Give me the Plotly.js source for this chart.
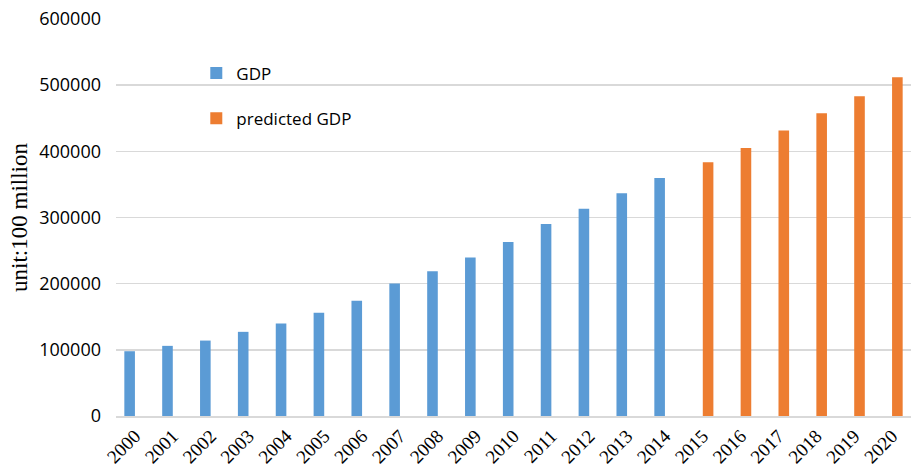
<!DOCTYPE html>
<html>
<head>
<meta charset="utf-8">
<script src="https://cdn.plot.ly/plotly-3.0.1.min.js"></script>
<style>html,body{margin:0;padding:0;background:#fff;}#chart{width:911px;height:470px;}</style>
</head>
<body>
<div id="chart"></div>
<script>
var yearsActual = ["2000","2001","2002","2003","2004","2005","2006","2007","2008","2009","2010","2011","2012","2013","2014"];
var gdpActual = [97900,106000,114000,127200,139700,155900,174000,200200,218700,239400,263100,290300,313400,336600,359800];
var yearsPredicted = ["2015","2016","2017","2018","2019","2020"];
var gdpPredicted = [383600,405100,431300,457400,483100,511800];
var allYears = yearsActual.concat(yearsPredicted);
var yTicks = [0,100000,200000,300000,400000,500000,600000];

var barW = 0.28;
var traces = [
  {type:"bar", name:"GDP", x:yearsActual, y:gdpActual, marker:{color:"#5b9bd5"},
   width:barW, offset:-barW, legendgroup:"a"},
  {type:"bar", name:"predicted GDP", x:yearsPredicted, y:gdpPredicted, marker:{color:"#ed7d31"},
   width:barW, offset:0, legendgroup:"b"}
];

var layout = {
  width:911, height:470,
  margin:{l:116, r:0, t:19, b:54},
  paper_bgcolor:"#fff", plot_bgcolor:"#fff",
  barmode:"overlay",
  showlegend:true,
  legend:{x:0.101, y:0.908, xanchor:"left", yanchor:"top", bgcolor:"rgba(0,0,0,0)",
          font:{family:"Open Sans", size:17, color:"#000"}, tracegroupgap:20, traceorder:"grouped"},
  xaxis:{type:"category", categoryorder:"array", categoryarray:allYears, range:[-0.5,20.5],
         tickangle:-45, tickfont:{family:"Liberation Serif", size:19, color:"#000"},
         showgrid:false, showline:true, linecolor:"#d9d9d9", linewidth:1.5, ticks:"", fixedrange:true},
  yaxis:{range:[0,600000], tickvals:yTicks, ticktext:yTicks.map(String),
         tickfont:{family:"Open Sans", size:18, color:"#000"},
         showgrid:true, gridcolor:"#d9d9d9", gridwidth:1.5, zeroline:false, showline:false,
         ticks:"", ticklabelstandoff:14,
         title:{text:"unit:100 million", font:{family:"Liberation Serif", size:23, color:"#000"}, standoff:5}}
};
Plotly.newPlot("chart", traces, layout, {displayModeBar:false, staticPlot:true});
</script>
</body>
</html>
